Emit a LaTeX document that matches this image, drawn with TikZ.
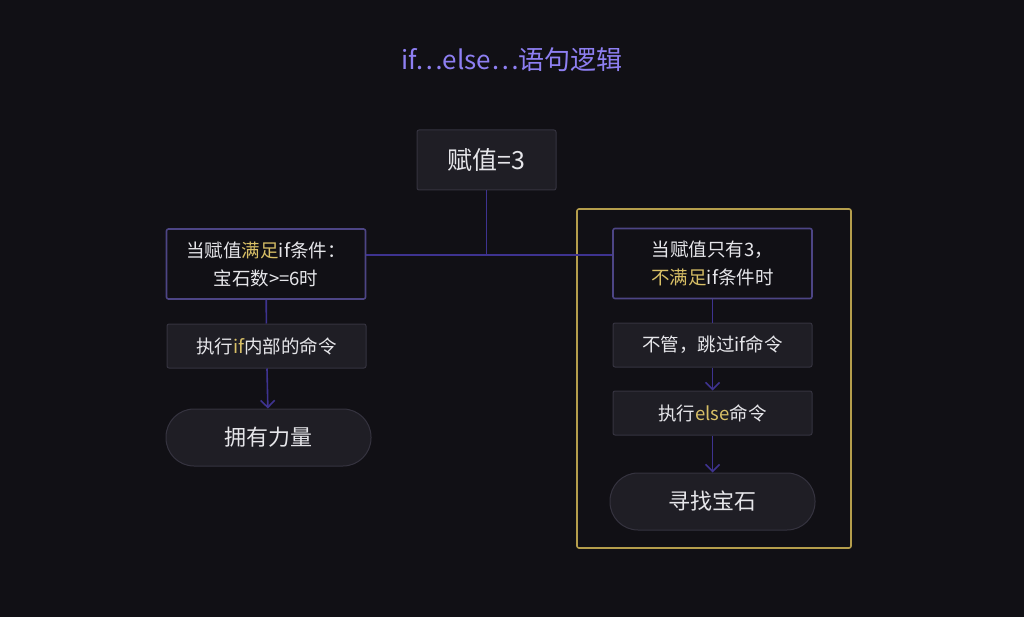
\documentclass[tikz,border=0pt]{standalone}
\usepackage{fontspec}
\setmainfont{Noto Sans CJK SC}
\usetikzlibrary{positioning,arrows.meta}
\definecolor{night bg}{HTML}{111015}
\definecolor{box fill}{HTML}{1F1E25}
\definecolor{box line}{HTML}{35333F}
\definecolor{flow purple}{HTML}{3E3390}
\definecolor{cond purple}{HTML}{4D4585}
\definecolor{title purple}{HTML}{8E7FF2}
\definecolor{gold}{HTML}{D8BF66}
\definecolor{frame gold}{HTML}{B59E4C}
\definecolor{soft white}{HTML}{E6E6EA}
\newcommand{\gd}[1]{\textcolor{gold}{#1}}
\tikzset{
  cmdbox/.style={draw=box line, fill=box fill, line width=1pt, rounded corners=2pt,
    minimum width=199pt, minimum height=44pt, text=soft white, font=\fontsize{18.5}{28}\selectfont},
  condbox/.style={cmdbox, draw=cond purple, fill=night bg, line width=1.6pt, minimum height=70pt, align=center},
  termbox/.style={cmdbox, rounded corners=28pt, minimum width=205pt, minimum height=57pt,
    font=\fontsize{22}{26}\selectfont},
  flow/.style={draw=flow purple, line width=1.6pt},
  arrow/.style={flow, -{Straight Barb[length=7pt,width=14pt]}}
}
\begin{document}
\begin{tikzpicture}[x=1pt,y=-1pt]
  % background
  \fill[night bg] (0,0) rectangle (1024,617);
  \useasboundingbox (0,0) rectangle (1024,617);
  % title
  \node[text=title purple, font=\fontsize{26}{30}\selectfont] (title) at (512,60) {if…else…语句逻辑};
  % else frame
  \draw[frame gold, line width=1.6pt, rounded corners=2pt] (577,209) rectangle (851,548);
  % nodes
  \node[cmdbox, minimum width=139pt, minimum height=60pt, font=\fontsize{25}{30}\selectfont] (assign) at (486.5,160) {赋值=3};
  \node[condbox] (ifcond) at (266,264) {当赋值\gd{满足}if条件：\\宝石数>=6时};
  \node[cmdbox] (ifcmd) at (266.5,346) {执行\gd{if}内部的命令};
  \node[termbox] (power) at (268.5,437.5) {拥有力量};
  \node[condbox] (elsecond) at (712.5,263.5) {当赋值只有3，\\\gd{不满足}if条件时};
  \node[cmdbox] (skip) at (712.5,345) {不管，跳过if命令};
  \node[cmdbox] (elsecmd) at (712.5,413) {执行\gd{else}命令};
  \node[termbox] (gem) at (712.5,501.5) {寻找宝石};
  % connectors
  \coordinate (split) at (assign.south |- 0,255);
  \draw[flow] (assign.south) -- (split);
  \draw[flow] (ifcond.east |- split) -- (elsecond.west |- split);
  \draw[flow] (ifcond) -- (ifcmd);
  \draw[arrow] (ifcmd) -- (power);
  \draw[flow] (elsecond) -- (skip);
  \draw[arrow] (skip) -- (elsecmd);
  \draw[arrow] (elsecmd) -- (gem);
\end{tikzpicture}
\end{document}
